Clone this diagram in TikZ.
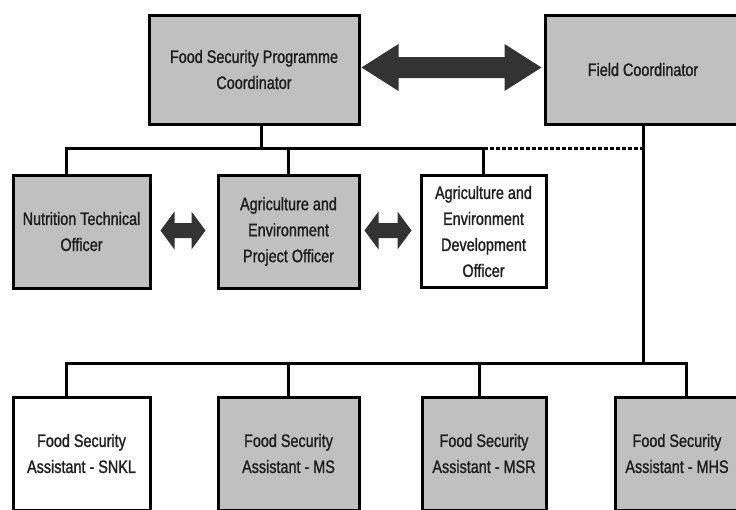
\documentclass[tikz,border=0pt]{standalone}
\usepackage{fontspec}
\setmainfont[FakeStretch=0.8, FakeBold=1.2]{Liberation Sans}
\usetikzlibrary{calc}

\definecolor{boxgray}{HTML}{C0C0C0}
\definecolor{arrowdark}{HTML}{333333}
\definecolor{textdark}{HTML}{1E1E1E}

% Fat double-headed arrow between two points:
% #1 left tip, #2 right tip, #3 shaft half-height, #4 head half-height, #5 head length
\newcommand{\fatarrow}[5]{%
  \fill[arrowdark]
    (#1) -- ($(#1)+(#5,#4)$) -- ($(#1)+(#5,#3)$)
    -- ($(#2)+(-#5,#3)$) -- ($(#2)+(-#5,#4)$) -- (#2)
    -- ($(#2)+(-#5,-#4)$) -- ($(#2)+(-#5,-#3)$)
    -- ($(#1)+(#5,-#3)$) -- ($(#1)+(#5,-#4)$) -- cycle;}

\begin{document}
\begin{tikzpicture}[x=1pt,y=-1pt,
  post/.style={draw=black, line width=3pt, rectangle, align=center,
    text=textdark, font=\fontsize{18}{26}\selectfont, inner sep=0pt},
  grey/.style={post, fill=boxgray},
  white/.style={post, fill=white},
  link/.style={draw=black, line width=3pt},
  dotlink/.style={link, dash pattern=on 4pt off 2pt}]

\useasboundingbox (0,0) rectangle (736,509);
\clip (0,0) rectangle (736,509);

% top level
\node[grey, minimum width=210pt, minimum height=109pt] (fspc) at (254,69.5)
  {Food Security Programme\\Coordinator};
\node[grey, minimum width=196pt, minimum height=109pt] (fc) at (643,69.5)
  {Field Coordinator};

% officers
\node[grey, minimum width=137pt, minimum height=113pt] (nto) at (81.5,231.5)
  {Nutrition Technical\\Officer};
\node[grey, minimum width=141pt, minimum height=113pt] (aepo) at (288.5,231.5)
  {Agriculture and\\Environment\\Project Officer};
\node[white, minimum width=125pt, minimum height=112pt] (aedo) at (483.5,231.5)
  {Agriculture and\\Environment\\Development\\Officer};

% assistants
\node[white, minimum width=137pt, minimum height=113pt] (snkl) at (81.5,453.5)
  {Food Security\\Assistant - SNKL};
\node[grey, minimum width=141pt, minimum height=113pt] (ms) at (288.5,453.5)
  {Food Security\\Assistant - MS};
\node[grey, minimum width=124pt, minimum height=113pt] (msr) at (484,453.5)
  {Food Security\\Assistant - MSR};
\node[grey, minimum width=124pt, minimum height=113pt] (mhs) at (677,453.5)
  {Food Security\\Assistant - MHS};

% bus lines
\coordinate (busA) at (0,148);
\coordinate (busB) at (0,363);

\draw[link] ([xshift=7pt]fspc.south) -- ([xshift=7pt]fspc.south |- busA);
\draw[link] ([xshift=-15.5pt]nto.north) |- (aedo.north |- busA) -- (aedo.north);
\draw[link] (aepo.north) -- (aepo.north |- busA);
\draw[dotlink] (aedo.north |- busA) -- (fc.south |- busA);

\draw[link] (fc.south) -- (fc.south |- busB);
\draw[link] ([xshift=-15.5pt]snkl.north) |- ([xshift=9pt]mhs.north |- busB)
  -- ([xshift=9pt]mhs.north);
\draw[link] (ms.north) -- (ms.north |- busB);
\draw[link] ([xshift=-5pt]msr.north) -- ([xshift=-5pt]msr.north |- busB);

% two-way links
\coordinate (a1l) at ($(fspc.east)+(1,-2)$);
\coordinate (a1r) at ($(fc.west)+(-2,-2)$);
\fatarrow{a1l}{a1r}{10.5}{23.5}{37}

\coordinate (a2l) at ($(nto.east)+(9,-1)$);
\coordinate (a2r) at ($(aepo.west)+(-11,-1)$);
\fatarrow{a2l}{a2r}{7.5}{19}{14}

\coordinate (a3l) at ($(aepo.east)+(4,-1)$);
\coordinate (a3r) at ($(aedo.west)+(-8,-1)$);
\fatarrow{a3l}{a3r}{7.5}{19}{14}

\end{tikzpicture}
\end{document}
